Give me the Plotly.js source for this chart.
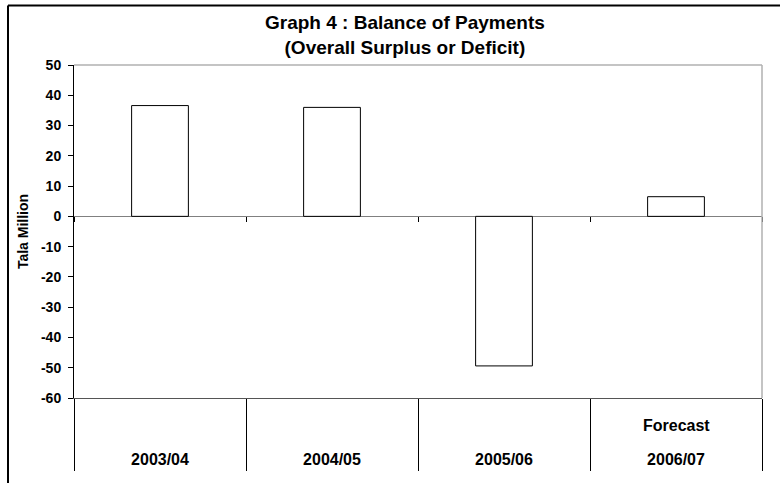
<!DOCTYPE html>
<html>
<head>
<meta charset="utf-8">
<script src="https://cdn.plot.ly/plotly-3.0.1.min.js"></script>
<style>html,body{margin:0;padding:0;background:#fff;}#chart{width:780px;height:483px;}</style>
</head>
<body>
<div id="chart"></div>
<script>
// Data
const categories = ['2003/04', '2004/05', '2005/06', '2006/07'];
const balance = [36.6, 36.0, -49.4, 6.5];
const categoryNotes = ['', '', '', 'Forecast'];
const yTickValues = [50, 40, 30, 20, 10, 0, -10, -20, -30, -40, -50, -60];
const yTickLabels = ['50', '40', '30', '20', '10', '0', '-10', '-20', '-30', '-40', '-50', '-60'];

const FONT = 'Liberation Sans, Arial, Helvetica, sans-serif';

const traces = [
  {
    type: 'bar',
    x: categories,
    y: balance,
    width: 0.33,
    marker: {color: '#ffffff', line: {color: '#000000', width: 1}},
    hoverinfo: 'x+y'
  },
  {
    type: 'scatter',
    mode: 'none',
    x: categories,
    y: balance,
    xaxis: 'x2',
    yaxis: 'y',
    hoverinfo: 'skip',
    showlegend: false
  }
];

const zeroPos = (0 - (-60)) / (50 - (-60));

const noteAnnotations = categories
  .map((c, i) => ({c: c, note: categoryNotes[i]}))
  .filter(d => d.note)
  .map(d => ({
    xref: 'x', yref: 'paper', x: d.c, y: -27 / 333,
    yanchor: 'middle', xanchor: 'center', showarrow: false,
    text: d.note,
    font: {family: FONT, size: 16, weight: 'bold', color: '#000000'}
  }));

const layout = {
  width: 780,
  height: 483,
  margin: {l: 74, r: 18, t: 65, b: 85, pad: 0},
  paper_bgcolor: '#ffffff',
  plot_bgcolor: '#ffffff',
  showlegend: false,
  bargap: 0.67,
  font: {family: FONT, color: '#000000'},
  title: {
    text: 'Graph 4 : Balance of Payments<br>(Overall Surplus or Deficit)',
    font: {family: FONT, size: 19, weight: 'bold', color: '#000000'},
    xref: 'paper',
    x: 0.481,
    xanchor: 'center',
    yref: 'container',
    y: 1 - 29 / 483,
    yanchor: 'top'
  },
  xaxis: {
    type: 'category',
    tickmode: 'array',
    tickvals: categories,
    ticktext: categories,
    tickson: 'boundaries',
    ticks: 'outside',
    ticklen: 72,
    tickwidth: 1,
    tickcolor: '#000000',
    ticklabelstandoff: 47,
    tickfont: {family: FONT, size: 16, weight: 'bold', color: '#000000'},
    showline: true,
    linecolor: '#555555',
    linewidth: 1,
    showgrid: false,
    zeroline: false,
    fixedrange: true
  },
  xaxis2: {
    type: 'category',
    matches: 'x',
    overlaying: 'x',
    anchor: 'free',
    position: zeroPos,
    tickson: 'boundaries',
    ticks: 'outside',
    ticklen: 5,
    tickwidth: 1,
    tickcolor: '#000000',
    showticklabels: false,
    showline: false,
    showgrid: false,
    zeroline: false
  },
  yaxis: {
    range: [-60, 50],
    tickmode: 'array',
    tickvals: yTickValues,
    ticktext: yTickLabels,
    ticks: 'outside',
    ticklen: 5,
    tickwidth: 1,
    tickcolor: '#000000',
    ticklabelstandoff: 4,
    tickfont: {family: FONT, size: 14, weight: 'bold', color: '#000000'},
    showline: true,
    linecolor: '#000000',
    linewidth: 1,
    showgrid: false,
    zeroline: true,
    zerolinecolor: '#808080',
    zerolinewidth: 1,
    fixedrange: true,
    title: {
      text: 'Tala Million',
      font: {family: FONT, size: 14, weight: 'bold', color: '#000000'},
      standoff: 9
    }
  },
  annotations: noteAnnotations,
  shapes: [
    // plot area border (top and right, light grey)
    {type: 'line', xref: 'paper', yref: 'paper', x0: 0, x1: 1, y0: 1, y1: 1, line: {color: '#b0b0b0', width: 1.5}},
    {type: 'line', xref: 'paper', yref: 'paper', x0: 1, x1: 1, y0: 0, y1: 1, line: {color: '#b0b0b0', width: 1.5}},
    // outer chart frame (left and top edges visible)
    {type: 'line', xref: 'paper', yref: 'paper', x0: -66 / 688, x1: 1.1, y0: 1 + 59.5 / 333, y1: 1 + 59.5 / 333, line: {color: '#000000', width: 2}},
    {type: 'line', xref: 'paper', yref: 'paper', x0: -66 / 688, x1: -66 / 688, y0: -0.3, y1: 1 + 59.5 / 333, line: {color: '#000000', width: 2}}
  ]
};

Plotly.newPlot('chart', traces, layout, {displayModeBar: false, staticPlot: true});
</script>
</body>
</html>
